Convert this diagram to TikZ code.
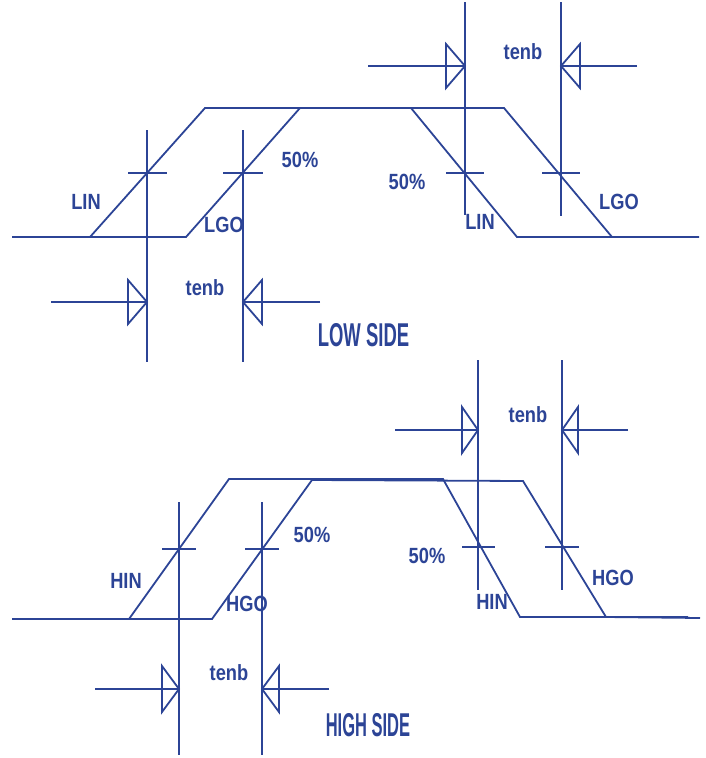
\documentclass[tikz,border=0pt]{standalone}
\usepackage{fontspec}
\setmainfont{Liberation Sans}
\definecolor{ink}{RGB}{44,68,150}
\newcommand{\lbl}[1]{\scalebox{0.83}[1]{\bfseries #1}}
\tikzset{
  wave/.style={draw=ink, line width=1.8pt, line join=miter},
  guide/.style={draw=ink, line width=1.8pt},
  tick/.style={draw=ink, line width=1.8pt},
  tri/.style={draw=ink, line width=1.8pt, line join=miter},
  lab/.style={text=ink, inner sep=0pt, font=\fontsize{22}{22}\selectfont},
  title/.style={text=ink, inner sep=0pt, font=\fontsize{33}{33}\selectfont\bfseries},
}
\newcommand{\enb}[5]{% line start x, tip x, base x, y, half height
  \draw[guide] (#1,#4) -- (#2,#4);
  \draw[tri] (#2,#4) -- (#3,#4-#5) -- (#3,#4+#5) -- cycle;
}
\begin{document}
\begin{tikzpicture}[x=1pt,y=-1pt]
\useasboundingbox (0,0) rectangle (706,758);
% ---------------- LOW SIDE ----------------
\draw[wave] (12,237) -- (90,237) -- (205,108) -- (411,108) -- (517,237) -- (684,237);
\draw[wave] (50,237) -- (186,237) -- (300,108) -- (504,108) -- (612,237) -- (699,237);
\draw[guide] (147,130) -- (147,362);
\draw[guide] (243,130) -- (243,362);
\draw[guide] (465,2) -- (465,215);
\draw[guide] (561,2) -- (561,216);
\draw[tick] (128,173) -- (167,173);
\draw[tick] (223,173) -- (263,173);
\draw[tick] (446,173) -- (484,173);
\draw[tick] (542,173) -- (580,173);
\enb{51}{147}{128}{302}{22}
\enb{320}{243}{262}{302}{22}
\enb{368}{465}{446}{66}{22}
\enb{637}{561}{580}{66}{22}
\node[lab] (lin1) at (86,202) {\lbl{LIN}};
\node[lab] (lgo1) at (224,225) {\lbl{LGO}};
\node[lab] (p1) at (300,160) {\lbl{50\%}};
\node[lab] (t1) at (205,288) {\lbl{tenb}};
\node[lab] (t2) at (523,52) {\lbl{tenb}};
\node[lab] (p2) at (407,182) {\lbl{50\%}};
\node[lab] (lin2) at (480,222) {\lbl{LIN}};
\node[lab] (lgo2) at (619,202) {\lbl{LGO}};
\node[title] (low) at (363.5,335) {\scalebox{0.56}[1]{LOW SIDE}};
% ---------------- HIGH SIDE ----------------
\draw[wave] (12,619) -- (129,619) -- (229,479) -- (443,479) -- (520,617) -- (688,617);
\draw[wave] (95,619) -- (212,619) -- (312,480) -- (523,481) -- (606,617) -- (700,618);
\draw[guide] (179,502) -- (179,755);
\draw[guide] (262,502) -- (262,755);
\draw[guide] (478,360) -- (478,590);
\draw[guide] (562,360) -- (562,590);
\draw[tick] (162,549) -- (196,549);
\draw[tick] (245,549) -- (279,549);
\draw[tick] (462,547) -- (495,547);
\draw[tick] (545,547) -- (579,547);
\enb{95}{179}{162}{689}{23}
\enb{329}{262}{279}{689}{23}
\enb{395}{478}{462}{430}{23}
\enb{628}{562}{578}{430}{23}
\node[lab] (hin1) at (126,581) {\lbl{HIN}};
\node[lab] (hgo1) at (247,604) {\lbl{HGO}};
\node[lab] (p3) at (312,535) {\lbl{50\%}};
\node[lab] (t3) at (229,673) {\lbl{tenb}};
\node[lab] (t4) at (528,415) {\lbl{tenb}};
\node[lab] (p4) at (427,556) {\lbl{50\%}};
\node[lab] (hin2) at (492,602) {\lbl{HIN}};
\node[lab] (hgo2) at (613,578) {\lbl{HGO}};
\node[title] (high) at (368,725) {\scalebox{0.5}[1]{HIGH SIDE}};
\end{tikzpicture}
\end{document}
